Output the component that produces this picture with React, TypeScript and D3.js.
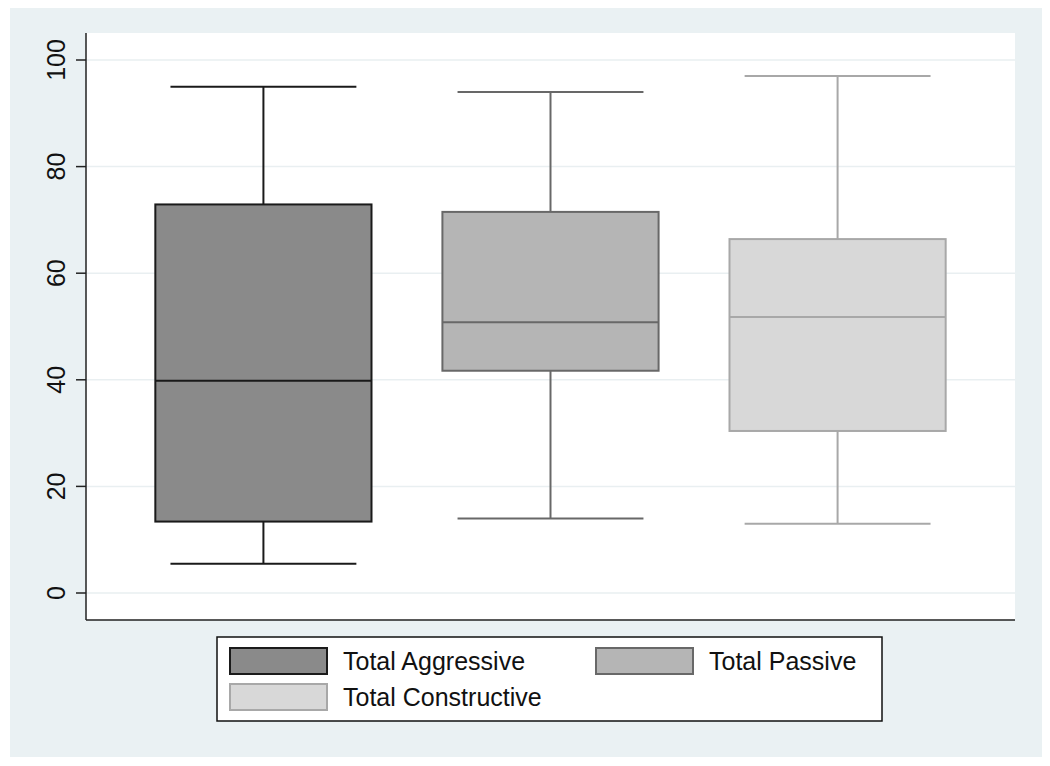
import React from "react";
import * as d3 from "d3";

const categories = ["Total Aggressive", "Total Passive", "Total Constructive"];
const whiskerLow = [5.5, 14, 13];
const q1 = [13.4, 41.7, 30.4];
const median = [39.8, 50.8, 51.8];
const q3 = [72.9, 71.5, 66.4];
const whiskerHigh = [95, 94, 97];
const yTicks = [0, 20, 40, 60, 80, 100];

const fills = ["#8a8a8a", "#b5b5b5", "#d8d8d8"];
const strokes = ["#1a1a1a", "#686868", "#a8a8a8"];

export default function App() {
  const W = 1050, H = 766;
  const left = 86, right = 1015, top = 33, bottom = 620;
  const x = d3.scalePoint<string>().domain(categories).range([left, right]).padding(0.618);
  const y = d3.scaleLinear().domain([0, 100]).range([593, 60]);
  const step = x.step();
  const bw = step * 0.753;
  const cw = bw * 0.43;
  const font = "Liberation Sans, Arial, Helvetica, sans-serif";

  const legendItems = [
    { i: 0, x: 230, y: 648 },
    { i: 1, x: 596, y: 648 },
    { i: 2, x: 230, y: 684 },
  ];

  return (
    <svg width={W} height={H} style={{ position: "absolute", left: 0, top: 0 }}>
      <rect x={0} y={0} width={W} height={H} fill="#ffffff" />
      <rect x={10} y={8} width={1032} height={749} fill="#eaf1f3" />
      <rect x={left} y={top} width={right - left} height={bottom - top} fill="#ffffff" />
      {yTicks.map((t) => (
        <g key={t}>
          <line x1={left} x2={right} y1={y(t)} y2={y(t)} stroke="#e9eff1" strokeWidth={1.5} />
          <line x1={left - 10} x2={left} y1={y(t)} y2={y(t)} stroke="#222" strokeWidth={1.5} />
          <text
            transform={`translate(${left - 21},${y(t)}) rotate(-90)`}
            textAnchor="middle"
            fontFamily={font}
            fontSize={25}
            fill="#111"
          >
            {t}
          </text>
        </g>
      ))}
      {categories.map((c, i) => {
        const cx = x(c) as number;
        return (
          <g key={c} stroke={strokes[i]} strokeWidth={2}>
            <line x1={cx} x2={cx} y1={y(whiskerHigh[i])} y2={y(q3[i])} />
            <line x1={cx} x2={cx} y1={y(q1[i])} y2={y(whiskerLow[i])} />
            <line x1={cx - cw} x2={cx + cw} y1={y(whiskerHigh[i])} y2={y(whiskerHigh[i])} />
            <line x1={cx - cw} x2={cx + cw} y1={y(whiskerLow[i])} y2={y(whiskerLow[i])} />
            <rect x={cx - bw / 2} y={y(q3[i])} width={bw} height={y(q1[i]) - y(q3[i])} fill={fills[i]} />
            <line x1={cx - bw / 2} x2={cx + bw / 2} y1={y(median[i])} y2={y(median[i])} />
          </g>
        );
      })}
      <line x1={left} x2={left} y1={top} y2={bottom} stroke="#222" strokeWidth={1.5} />
      <line x1={left} x2={right} y1={bottom} y2={bottom} stroke="#222" strokeWidth={1.5} />
      <rect x={217} y={637} width={665} height={84} fill="#ffffff" stroke="#111" strokeWidth={1.5} />
      {legendItems.map((it) => (
        <g key={it.i}>
          <rect x={it.x} y={it.y} width={97} height={26} fill={fills[it.i]} stroke={strokes[it.i]} strokeWidth={2} />
          <text x={it.x + 113} y={it.y + 22} fontFamily={font} fontSize={25} fill="#111">
            {categories[it.i]}
          </text>
        </g>
      ))}
    </svg>
  );
}
